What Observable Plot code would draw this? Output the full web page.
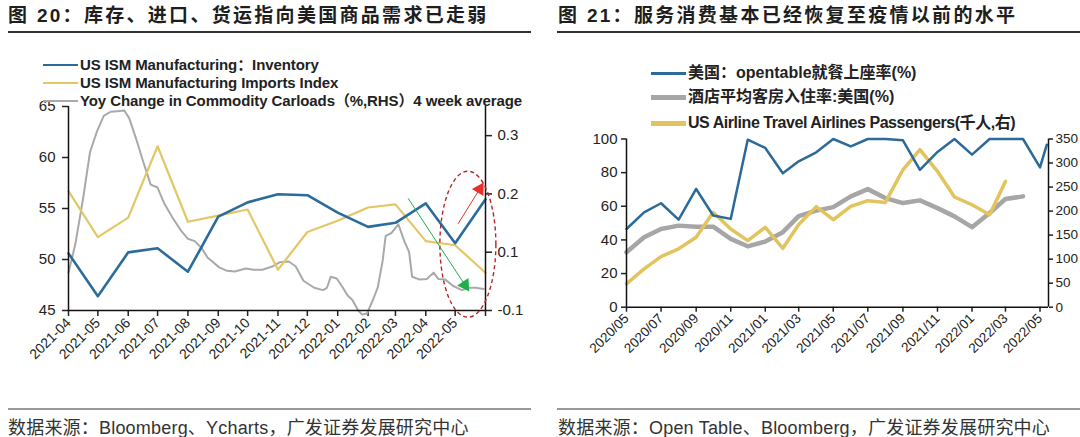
<!DOCTYPE html>
<html><head><meta charset="utf-8">
<script src="https://cdn.jsdelivr.net/npm/d3@7"></script>
<script src="https://cdn.jsdelivr.net/npm/@observablehq/plot@0.6"></script>
<style>
html,body{margin:0;padding:0;background:#fff}
body{width:1080px;height:437px;overflow:hidden;position:relative;font-family:"Liberation Sans",Arial,"Noto Sans CJK SC",sans-serif;color:#222}
.abs{position:absolute;white-space:nowrap}
.title{font-family:"Liberation Sans","Noto Sans CJK SC",sans-serif;font-weight:700;font-size:19px;letter-spacing:2.3px;line-height:24px;color:#1e1e1e}
.rule{position:absolute;height:1.5px;background:#333}
.crule{position:absolute;height:2px;background:#999}
.cap{font-family:"Liberation Sans","Noto Sans CJK SC",sans-serif;font-size:18px;line-height:20px;color:#333;letter-spacing:0.2px}
.leg{font-weight:700;line-height:18px;color:#222;display:flex;align-items:center}
.sw{display:inline-block;margin-right:2px}
svg{max-width:none}
</style></head><body>
<script>
// ---------- Left chart data (图20) ----------
const leftMonths = ["2021-04-01","2021-05-01","2021-06-01","2021-07-01","2021-08-01","2021-09-01","2021-10-01","2021-11-01","2021-12-01","2022-01-01","2022-02-01","2022-03-01","2022-04-01","2022-05-01","2022-06-01"];
const leftTickLabels = ["2021-04","2021-05","2021-06","2021-07","2021-08","2021-09","2021-10","2021-11","2021-12","2022-01","2022-02","2022-03","2022-04","2022-05",""];
const ismInventory = [50.6,46.4,50.7,51.1,48.8,54.2,55.6,56.4,56.3,54.6,53.2,53.6,55.5,51.6,55.9];
const ismImports   = [56.7,52.2,54.1,61.1,53.7,54.3,54.9,49.0,52.7,53.8,55.1,55.4,51.8,51.4,48.7];
const carloadDates = ["2021-04-01","2021-04-08","2021-04-16","2021-04-23","2021-04-30","2021-05-07","2021-05-14","2021-05-21","2021-05-28","2021-06-02","2021-06-09","2021-06-16","2021-06-24","2021-07-01","2021-07-08","2021-07-16","2021-07-25","2021-08-01","2021-08-08","2021-08-15","2021-08-21","2021-09-02","2021-09-10","2021-09-18","2021-09-29","2021-10-07","2021-10-16","2021-10-27","2021-11-03","2021-11-12","2021-11-19","2021-11-27","2021-12-08","2021-12-17","2021-12-21","2021-12-25","2021-12-31","2022-01-06","2022-01-11","2022-01-16","2022-01-22","2022-01-26","2022-01-31","2022-02-06","2022-02-11","2022-02-16","2022-02-19","2022-02-25","2022-03-04","2022-03-10","2022-03-15","2022-03-18","2022-03-26","2022-04-02","2022-04-09","2022-04-14","2022-04-21","2022-04-29","2022-05-08","2022-05-15","2022-05-22","2022-05-30"];
const carloadYoy = [0.065,0.114,0.193,0.272,0.307,0.334,0.341,0.342,0.343,0.330,0.295,0.257,0.216,0.211,0.183,0.160,0.137,0.123,0.119,0.107,0.091,0.074,0.068,0.067,0.072,0.070,0.070,0.076,0.083,0.084,0.076,0.051,0.039,0.035,0.039,0.058,0.055,0.040,0.026,0.018,0.000,-0.007,-0.005,0.018,0.040,0.086,0.128,0.133,0.148,0.119,0.100,0.058,0.053,0.054,0.065,0.054,0.053,0.042,0.035,0.039,0.039,0.037];
const leftYTicks = [45,50,55,60,65];
const rhsTicks = [0,0.1,0.2,0.3];
const rhsTickLabels = ["-0.1","0.1","0.2","0.3"];
const riseArrow = {x1:"2022-05-04", y1:53.5, x2:"2022-05-26", y2:56.9};
const fallArrow = {x1:"2022-03-14", y1:56.0, x2:"2022-05-11", y2:47.5};
const circleNote = {x:"2022-05-14", y:51.5};

// ---------- Right chart data (图21) ----------
const otDates = ["2020-05-01","2020-06-01","2020-07-01","2020-08-01","2020-09-01","2020-10-01","2020-11-01","2020-12-01","2021-01-01","2021-02-01","2021-03-01","2021-04-01","2021-05-01","2021-06-01","2021-07-01","2021-08-01","2021-09-01","2021-10-01","2021-11-01","2021-12-01","2022-01-01","2022-02-01","2022-03-01","2022-04-01","2022-05-01","2022-05-13"];
const opentable = [46.5,56.4,61.8,52.1,70.3,54.5,52.5,99.6,94.7,79.6,86.7,92.1,100,95.6,100,100,99.2,81.7,92.3,100,90.7,100,100,100,83.1,96.6];
const hotelOcc = [32.7,41.6,46.5,48.5,47.9,47.9,40.6,36.2,39.0,44.6,54.1,57.4,59.5,65.9,70.2,64.9,61.9,63.5,58.9,54.0,47.6,56.0,64.3,65.9];
const airline = [48.7,79.8,105.4,121.5,145.6,197.4,162.8,138.6,166.3,122.5,171.9,209.3,182.0,209.7,221.6,218.0,286.0,328.0,282.8,229.3,213.2,192.5,261.8];
const rightXTicks = ["2020-05-01","2020-07-01","2020-09-01","2020-11-01","2021-01-01","2021-03-01","2021-05-01","2021-07-01","2021-09-01","2021-11-01","2022-01-01","2022-03-01","2022-05-01"];
const rightXLabels = ["2020/05","2020/07","2020/09","2020/11","2021/01","2021/03","2021/05","2021/07","2021/09","2021/11","2022/01","2022/03","2022/05"];
const rightYTicks = [0,20,40,60,80,100];
const airlineTicks = [0,50,100,150,200,250,300,350];

// ---------- build ----------
const D = s => new Date(s + "T00:00:00Z");
const font = "Liberation Sans, Arial, sans-serif";

// left chart: RHS values mapped onto the LHS scale
const rhsMax = 0.35, lhsMin = 45, lhsMax = 65;
const toL = v => lhsMin + v * (lhsMax - lhsMin) / rhsMax;
const monthly = leftMonths.map((m, i) => ({date: D(m), inv: ismInventory[i], imp: ismImports[i]}));
const carloads = carloadDates.map((d, i) => ({date: D(d), v: carloadYoy[i]}));
const lx0 = D(leftMonths[0]), lx1 = D(leftMonths[leftMonths.length - 1]);
const ellipse = {draw(ctx) { const rx = 28, ry = 73, k = 0.5523;
  ctx.moveTo(rx, 0); ctx.bezierCurveTo(rx, ry*k, rx*k, ry, 0, ry); ctx.bezierCurveTo(-rx*k, ry, -rx, ry*k, -rx, 0);
  ctx.bezierCurveTo(-rx, -ry*k, -rx*k, -ry, 0, -ry); ctx.bezierCurveTo(rx*k, -ry, rx, -ry*k, rx, 0); ctx.closePath(); }};
const arrows = [{...riseArrow, c:"#e8302a", a:31}, {...fallArrow, c:"#1fae4a", a:147}];

const left = Plot.plot({
  width: 540, height: 437, marginLeft: 68, marginRight: 55, marginTop: 106, marginBottom: 127,
  style: {background: "transparent", fontFamily: font, overflow: "visible"},
  x: {type: "utc", domain: [lx0, lx1]},
  y: {domain: [lhsMin, lhsMax]},
  marks: [
    Plot.axisY({ticks: leftYTicks, tickSize: 6, tickPadding: 7, fontSize: 15, label: null, strokeWidth: 1.5, color: "#222"}),
    Plot.axisY({anchor: "right", ticks: rhsTicks.map(toL), tickSize: 6, tickPadding: 6, fontSize: 15, label: null, strokeWidth: 1.5, color: "#222",
      tickFormat: d => rhsTickLabels[rhsTicks.findIndex(t => Math.abs(toL(t) - d) < 1e-6)]}),
    Plot.axisX({ticks: leftMonths.map(D), tickSize: 6, tickPadding: 4, fontSize: 14, label: null, strokeWidth: 1.5, color: "#222",
      tickRotate: -45, textAnchor: "end",
      tickFormat: d => leftTickLabels[leftMonths.findIndex(m => +D(m) === +d)]}),
    Plot.line(carloads, {x: "date", y: d => toL(d.v), stroke: "#a9a9a9", strokeWidth: 2}),
    Plot.line(monthly, {x: "date", y: "imp", stroke: "#e3c766", strokeWidth: 2.2}),
    Plot.line(monthly, {x: "date", y: "inv", stroke: "#2b6c9c", strokeWidth: 2.6}),
    Plot.ruleX([lx0, lx1], {stroke: "#111", strokeWidth: 1.5}),
    Plot.ruleY([lhsMin], {stroke: "#111", strokeWidth: 1.5}),
    Plot.dot([circleNote], {x: d => D(d.x), y: "y", symbol: ellipse, r: 5, fill: "none", stroke: "#b3262c", strokeWidth: 1.4, strokeDasharray: "4 3"}),
    Plot.link(arrows, {x1: d => D(d.x1), y1: "y1", x2: d => D(d.x2), y2: "y2", stroke: "c", strokeWidth: 1}),
    Plot.dot(arrows, {x: d => D(d.x2), y: "y2", symbol: "triangle", r: 5, fill: "c", stroke: "none", rotate: "a"})
  ]
});

// right chart: airline passengers (RHS 0–350) mapped onto 0–100
const aMax = 350, toR = v => v * 100 / aMax;
const ot = otDates.map((d, i) => ({date: D(d), v: opentable[i]}));
const hotel = hotelOcc.map((v, i) => ({date: D(otDates[i]), v}));
const air = airline.map((v, i) => ({date: D(otDates[i]), v}));
const rx0 = D("2020-05-01"), rx1 = D("2022-05-16");

const right = Plot.plot({
  width: 540, height: 437, marginLeft: 86, marginRight: 32, marginTop: 138.5, marginBottom: 130.3,
  style: {background: "transparent", fontFamily: font, overflow: "visible"},
  x: {type: "utc", domain: [rx0, rx1]},
  y: {domain: [0, 100]},
  marks: [
    Plot.axisY({ticks: rightYTicks, tickSize: 5, tickPadding: 4, fontSize: 15, label: null, strokeWidth: 1.5, color: "#222"}),
    Plot.axisY({anchor: "right", ticks: airlineTicks.map(toR), tickSize: 4, tickPadding: 3, fontSize: 13.5, label: null, strokeWidth: 1.5, color: "#222",
      tickFormat: d => String(Math.round(d * aMax / 100))}),
    Plot.axisX({ticks: rightXTicks.map(D), tickSize: 5, tickPadding: 4, fontSize: 13.5, label: null, strokeWidth: 1.5, color: "#222",
      tickRotate: -45, textAnchor: "end",
      tickFormat: d => rightXLabels[rightXTicks.findIndex(m => +D(m) === +d)]}),
    Plot.line(hotel, {x: "date", y: "v", stroke: "#a6a6a6", strokeWidth: 4.5}),
    Plot.line(air, {x: "date", y: d => toR(d.v), stroke: "#e2c45e", strokeWidth: 3.5}),
    Plot.line(ot, {x: "date", y: "v", stroke: "#2b6a99", strokeWidth: 2.5}),
    Plot.ruleX([rx0, rx1], {stroke: "#111", strokeWidth: 1.5}),
    Plot.ruleY([0], {stroke: "#111", strokeWidth: 1.5})
  ]
});

function place(el, x, y) { const w = document.createElement("div"); w.className = "abs"; w.style.left = x + "px"; w.style.top = y + "px"; w.appendChild(el); document.body.appendChild(w); return w; }
place(left, 0, 0);
place(right, 540, 0);

function html(h) { const t = document.createElement("div"); t.innerHTML = h; return t.firstChild; }
// titles
place(html('<div class="title">图 20：库存、进口、货运指向美国商品需求已走弱</div>'), 8, 4);
place(html('<div class="title">图 21：服务消费基本已经恢复至疫情以前的水平</div>'), 558, 4);
place(html('<div class="rule" style="width:523px"></div>'), 8, 31);
place(html('<div class="rule" style="width:523px"></div>'), 557, 31);
// captions
place(html('<div class="crule" style="width:523px"></div>'), 8, 408);
place(html('<div class="crule" style="width:523px"></div>'), 557, 408);
place(html('<div class="cap">数据来源：Bloomberg、Ycharts，广发证券发展研究中心</div>'), 8, 418);
place(html('<div class="cap">数据来源：Open Table、Bloomberg，广发证券发展研究中心</div>'), 558, 418);
// legends
const legL = [["US ISM Manufacturing：Inventory", "#2b6c9c", 56], ["US ISM Manufacturing Imports Index", "#e3c766", 74], ["Yoy Change in Commodity Carloads（%,RHS）4 week average", "#a9a9a9", 92]];
legL.forEach(([t, c, y]) => place(html(`<div class="leg" style="font-size:15px;letter-spacing:-0.1px"><span class="sw" style="width:35px;height:2.5px;background:${c}"></span>${t}</div>`), 43, y));
const legR = [["美国：opentable就餐上座率(%)", "#2b6a99", 3, 64, 0], ["酒店平均客房入住率:美国(%)", "#a6a6a6", 5, 88, 0], ["US Airline Travel Airlines Passengers(千人,右)", "#e2c45e", 5, 114, -0.45]];
legR.forEach(([t, c, h, y, ls]) => place(html(`<div class="leg" style="font-size:16px;letter-spacing:${ls}px"><span class="sw" style="width:35px;height:${h}px;background:${c}"></span>${t}</div>`), 651, y));
</script>
</body></html>
